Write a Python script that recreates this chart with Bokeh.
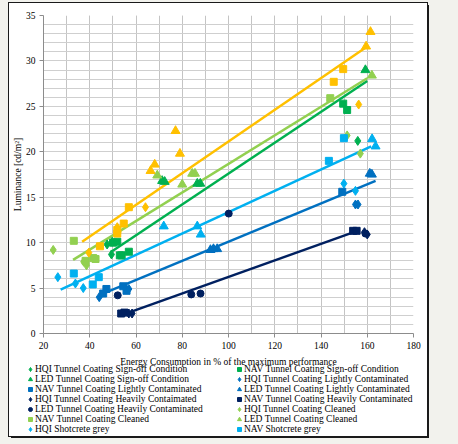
from bokeh.plotting import figure
from bokeh.layouts import column
from bokeh.models import Legend, LegendItem, Label, Title, SingleIntervalTicker
from bokeh.embed import file_html
from bokeh.resources import INLINE

# ---- measured luminance vs. energy consumption ----
# Tunnel coating, sign-off condition
signoff_hqi_x = [47.5, 49.7, 49.4, 155.9]
signoff_hqi_y = [9.8, 10.1, 8.7, 21.2]
signoff_nav_x = [50.1, 51.9, 53.0, 53.8, 56.9, 149.6, 151.3]
signoff_nav_y = [10.0, 10.1, 8.6, 8.6, 9.0, 25.3, 24.6]
signoff_led_x = [71.3, 72.4, 86.5, 87.8, 159.2]
signoff_led_y = [16.8, 16.7, 16.5, 16.5, 29.0]

# Tunnel coating, lightly contaminated
light_hqi_x = [44.1, 55.5, 56.9, 154.9, 156.0]
light_hqi_y = [4.0, 5.0, 4.9, 14.2, 14.2]
light_nav_x = [45.8, 47.2, 54.5, 55.9, 149.2]
light_nav_y = [4.4, 4.9, 5.2, 4.7, 15.6]
light_led_x = [92.2, 93.5, 95.1, 161.1, 162.0]
light_led_y = [9.2, 9.3, 9.3, 17.6, 17.5]

# Tunnel coating, heavily contaminated
heavy_hqi_x = [56.9, 58.3, 158.8, 160.0]
heavy_hqi_y = [2.2, 2.2, 11.15, 10.9]
heavy_nav_x = [53.6, 55.0, 153.9, 155.4]
heavy_nav_y = [2.2, 2.3, 11.3, 11.3]
heavy_led_x = [52.1, 83.9, 87.9, 100.1, 159.2]
heavy_led_y = [4.2, 4.3, 4.4, 13.2, 11.0]

# Tunnel coating, cleaned
cleaned_hqi_x = [24.2, 37.4, 38.6, 151.3, 157.0]
cleaned_hqi_y = [9.2, 7.9, 7.5, 21.8, 19.8]
cleaned_nav_x = [33.1, 38.2, 41.5, 42.5, 144.0]
cleaned_nav_y = [10.2, 8.0, 8.3, 8.2, 25.9]
cleaned_led_x = [69.2, 80.0, 84.3, 85.5, 162.0]
cleaned_led_y = [17.4, 16.4, 17.6, 17.6, 28.4]

# Shotcrete grey
grey_hqi_x = [26.2, 33.8, 37.2, 149.9, 154.9]
grey_hqi_y = [6.2, 5.5, 5.0, 16.5, 15.7]
grey_nav_x = [33.1, 41.3, 43.9, 143.4, 149.9]
grey_nav_y = [6.6, 5.4, 6.2, 19.0, 21.5]
grey_led_x = [72.0, 86.5, 88.0, 162.1, 163.6]
grey_led_y = [11.8, 11.8, 10.9, 21.4, 20.6]

# Shotcrete bright
bright_hqi_x = [39.6, 51.9, 64.1, 156.3]
bright_hqi_y = [8.9, 11.7, 13.9, 25.2]
bright_nav_x = [44.4, 51.9, 51.9, 54.7, 56.9, 145.5, 149.6]
bright_nav_y = [9.6, 11.0, 11.4, 12.1, 13.9, 27.7, 29.1]
bright_led_x = [66.3, 68.1, 77.1, 79.0, 159.5, 161.4]
bright_led_y = [17.9, 18.6, 22.3, 19.8, 31.6, 33.2]

# Linear trend lines (end points)
trend_bright_x = [36.7, 159.5]
trend_bright_y = [10.1, 31.5]
trend_cleaned_x = [32.8, 160.0]
trend_cleaned_y = [8.1, 28.1]
trend_signoff_x = [49.0, 160.0]
trend_signoff_y = [8.95, 27.8]
trend_grey_x = [27.4, 161.7]
trend_grey_y = [4.84, 20.6]
trend_light_x = [43.9, 163.6]
trend_light_y = [4.2, 16.8]
trend_heavy_x = [56.2, 154.2]
trend_heavy_y = [2.24, 11.15]

C_SIGNOFF = "#00b050"
C_LIGHT = "#0070c0"
C_HEAVY = "#002060"
C_CLEANED = "#92d050"
C_GREY = "#00b0f0"
C_BRIGHT = "#ffc000"

FONT = "Liberation Serif"
FS = "9.5px"

# ---- scatter chart ----
p = figure(width=418, height=351, x_range=(20, 180), y_range=(0, 35),
           output_backend="svg", toolbar_location=None,
           min_border_left=34, min_border_right=14, min_border_top=12,
           min_border_bottom=21, background_fill_color="white",
           border_fill_color="white", outline_line_color=None)
p.frame_align = False

p.xaxis.ticker = SingleIntervalTicker(interval=20, num_minor_ticks=2)
p.yaxis.ticker = SingleIntervalTicker(interval=5, num_minor_ticks=5)
for ax in (p.xaxis, p.yaxis):
    ax.axis_line_color = "#8c8c8c"
    ax.major_tick_line_color = "#8c8c8c"
    ax.major_tick_in = 0
    ax.major_tick_out = 4
    ax.minor_tick_line_color = None
    ax.major_label_text_font = FONT
    ax.major_label_text_font_size = FS
    ax.major_label_text_color = "black"
    ax.major_label_standoff = 4
p.xgrid.grid_line_color = "#c4c4c4"
p.xgrid.minor_grid_line_color = "#c4c4c4"
p.ygrid.grid_line_color = "#cfcfcf"
p.ygrid.minor_grid_line_color = "#cfcfcf"

# vertical axis title, sitting above the middle of the axis
p.add_layout(Title(text="Luminance [cd/m²]", align="center", offset=36,
                   text_font=FONT, text_font_size=FS,
                   text_font_style="normal", text_color="black",
                   standoff=0), "left")

for tx, ty, c in [(trend_heavy_x, trend_heavy_y, C_HEAVY),
                  (trend_light_x, trend_light_y, C_LIGHT),
                  (trend_grey_x, trend_grey_y, C_GREY),
                  (trend_signoff_x, trend_signoff_y, C_SIGNOFF),
                  (trend_cleaned_x, trend_cleaned_y, C_CLEANED),
                  (trend_bright_x, trend_bright_y, C_BRIGHT)]:
    p.line(tx, ty, line_color=c, line_width=2.5)

SIZES = {"diamond": 9, "square": 7, "triangle": 9, "circle": 7}

series = [
    ("signoff_hqi", signoff_hqi_x, signoff_hqi_y, "diamond", C_SIGNOFF),
    ("signoff_nav", signoff_nav_x, signoff_nav_y, "square", C_SIGNOFF),
    ("signoff_led", signoff_led_x, signoff_led_y, "triangle", C_SIGNOFF),
    ("light_hqi", light_hqi_x, light_hqi_y, "diamond", C_LIGHT),
    ("light_nav", light_nav_x, light_nav_y, "square", C_LIGHT),
    ("light_led", light_led_x, light_led_y, "triangle", C_LIGHT),
    ("heavy_hqi", heavy_hqi_x, heavy_hqi_y, "diamond", C_HEAVY),
    ("heavy_nav", heavy_nav_x, heavy_nav_y, "square", C_HEAVY),
    ("heavy_led", heavy_led_x, heavy_led_y, "circle", C_HEAVY),
    ("cleaned_hqi", cleaned_hqi_x, cleaned_hqi_y, "diamond", C_CLEANED),
    ("cleaned_nav", cleaned_nav_x, cleaned_nav_y, "square", C_CLEANED),
    ("cleaned_led", cleaned_led_x, cleaned_led_y, "triangle", C_CLEANED),
    ("grey_hqi", grey_hqi_x, grey_hqi_y, "diamond", C_GREY),
    ("grey_nav", grey_nav_x, grey_nav_y, "square", C_GREY),
    ("grey_led", grey_led_x, grey_led_y, "triangle", C_GREY),
    ("bright_hqi", bright_hqi_x, bright_hqi_y, "diamond", C_BRIGHT),
    ("bright_nav", bright_nav_x, bright_nav_y, "square", C_BRIGHT),
    ("bright_led", bright_led_x, bright_led_y, "triangle", C_BRIGHT),
]
markers = {}
for key, xs, ys, marker, color in series:
    p.scatter(xs, ys, marker=marker, size=SIZES[marker],
              fill_color=color, line_color=color)
    markers[key] = (marker, color)

# ---- legend strip under the chart ----
lg_fig = figure(width=418, height=82, x_range=(0, 1), y_range=(0, 1),
                output_backend="svg", toolbar_location=None,
                x_axis_type=None, y_axis_type=None, min_border=0,
                background_fill_color="white", border_fill_color="white",
                outline_line_color=None)
lg_fig.frame_align = False
lg_fig.grid.visible = False

# one undrawn (NaN) point per swatch, only used for the legend glyphs
nan = float("nan")
swatch = {}
for key, (marker, color) in markers.items():
    swatch[key] = lg_fig.scatter([nan], [nan], marker=marker, size=SIZES[marker],
                                 fill_color=color, line_color=color)

left_items = [
    ("HQI Tunnel Coating Sign-off Condition", "signoff_hqi"),
    ("LED Tunnel Coating Sign-off Condition", "signoff_led"),
    ("NAV Tunnel Coating Lightly Contaminated", "light_nav"),
    ("HQI Tunnel Coating Heavily Contaimated", "heavy_hqi"),
    ("LED Tunnel Coating Heavily Contaminated", "heavy_led"),
    ("NAV Tunnel Coating Cleaned", "cleaned_nav"),
    ("HQI Shotcrete grey", "grey_hqi"),
]
right_items = [
    ("NAV Tunnel Coating Sign-off Condition", "signoff_nav"),
    ("HQI Tunnel Coating Lightly Contaminated", "light_hqi"),
    ("LED Tunnel Coating Lightly Contaminated", "light_led"),
    ("NAV Tunnel Coating Heavily Contaminated", "heavy_nav"),
    ("HQI Tunnel Coating Cleaned", "cleaned_hqi"),
    ("LED Tunnel Coating Cleaned", "cleaned_led"),
    ("NAV Shotcrete grey", "grey_nav"),
]


def make_legend(items, loc):
    lg = Legend(items=[LegendItem(label=t, renderers=[swatch[k]]) for t, k in items],
                location=loc, orientation="vertical",
                label_text_font=FONT, label_text_font_size=FS,
                label_text_color="black", glyph_width=10, glyph_height=10,
                label_height=10, label_standoff=0, spacing=0, padding=0,
                margin=0, border_line_color=None, background_fill_alpha=0)
    lg_fig.add_layout(lg, "center")


make_legend(left_items, (16, 2))
make_legend(right_items, (225, 2))

lg_fig.add_layout(Label(x=219, y=75, x_units="screen", y_units="screen",
                        text="Energy Consumption in % of the maximum performance",
                        text_font=FONT, text_font_size=FS,
                        text_align="center", text_baseline="middle",
                        text_color="black"))

chart = column(p, lg_fig, width=418, height=433, spacing=0,
               margin=(3, 0, 0, 9),
               styles={"background-color": "white",
                       "box-shadow": "2px 2px 0px #1a1a1a",
                       "outline": "1px solid #1a1a1a"})
page = column(chart, width=458, height=444,
              styles={"background-color": "#f2f2ed"})

open("out.html", "w").write(file_html(page, INLINE))
